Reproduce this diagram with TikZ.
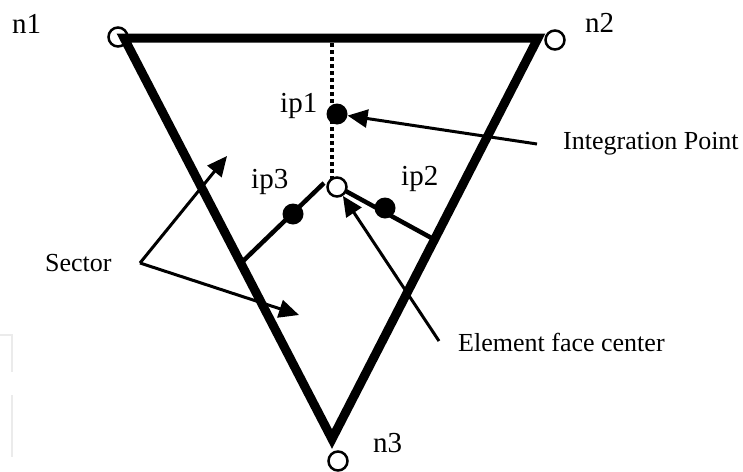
\documentclass[tikz,border=0pt]{standalone}
\usepackage{fontspec}
\setmainfont{Liberation Serif}
\usetikzlibrary{arrows.meta}
\begin{document}
\begin{tikzpicture}[x=1pt,y=-1pt,
  edge/.style={line width=9pt,line join=miter},
  opencirc/.style={circle,draw,line width=2.5pt,minimum size=19pt,inner sep=0pt},
  dotcirc/.style={circle,fill,minimum size=21pt,inner sep=0pt},
  spoke/.style={line width=4.5pt},
  dotted line/.style={line width=4.5pt,dash pattern=on 4pt off 3pt},
  arr/.style={line width=3pt,-{Triangle[length=20pt,width=18pt]}},
  nlab/.style={font=\fontsize{29}{31}\selectfont,inner sep=0pt,anchor=base west},
  alab/.style={font=\fontsize{26}{28}\selectfont,inner sep=0pt,anchor=base west},
  artifact/.style={draw=black!8,line width=1.5pt}
]
\useasboundingbox (0,0) rectangle (743,471);

% faint scan artefact at the left
\draw[artifact] (0,335) -- (12,335) -- (12,372);
\draw[artifact] (12,395) -- (12,457);

% triangle
\coordinate (A) at (124,38);
\coordinate (B) at (538,38);
\coordinate (C) at (332,439);
\draw[edge] (A) -- (B) -- (C) -- cycle;

% dashed centre line
\coordinate (dtop) at (332,43);
\coordinate (dbot) at (332,180);
\draw[dotted line] (dtop) -- (dbot);

% spokes to ip2 and ip3
\coordinate (s3a) at (241,263);
\coordinate (s3b) at (324,183);
\coordinate (s2a) at (342,189);
\coordinate (s2b) at (437,241);
\draw[spoke] (s3a) -- (s3b);
\draw[spoke] (s2a) -- (s2b);

% corner nodes
\node[opencirc] (n1) at (118,37) {};
\node[opencirc,fill=white] (n2) at (555,40) {};
\node[opencirc,fill=white] (n3) at (338,461) {};
\node[opencirc,fill=white] (c) at (337,187) {};

% integration points
\node[dotcirc] (ip1) at (337,114) {};
\node[dotcirc] (ip2) at (385,208) {};
\node[dotcirc] (ip3) at (293,214) {};

% labels
\node[nlab] (ln1) at (12,33) {n1};
\node[nlab] (ln2) at (585,32) {n2};
\node[nlab] (ln3) at (373,452) {n3};
\node[nlab] (lip1) at (280,112) {ip1};
\node[nlab] (lip3) at (251,188) {ip3};
\node[nlab] (lip2) at (401,185) {ip2};
\node[alab] (lint) at (563,149) {Integration Point};
\node[alab] (lefc) at (458,351) {Element face center};
\node[alab] (lsec) at (45,271) {Sector};

% annotation arrows
\coordinate (intstart) at (537,144);
\coordinate (efcstart) at (439,341);
\coordinate (secv) at (140,263);
\coordinate (sec1) at (227,156);
\coordinate (sec2) at (299,315);
\draw[arr] (intstart) -- (ip1);
\draw[arr] (efcstart) -- (c);
\draw[arr] (secv) -- (sec1);
\draw[arr] (secv) -- (sec2);
\end{tikzpicture}
\end{document}
